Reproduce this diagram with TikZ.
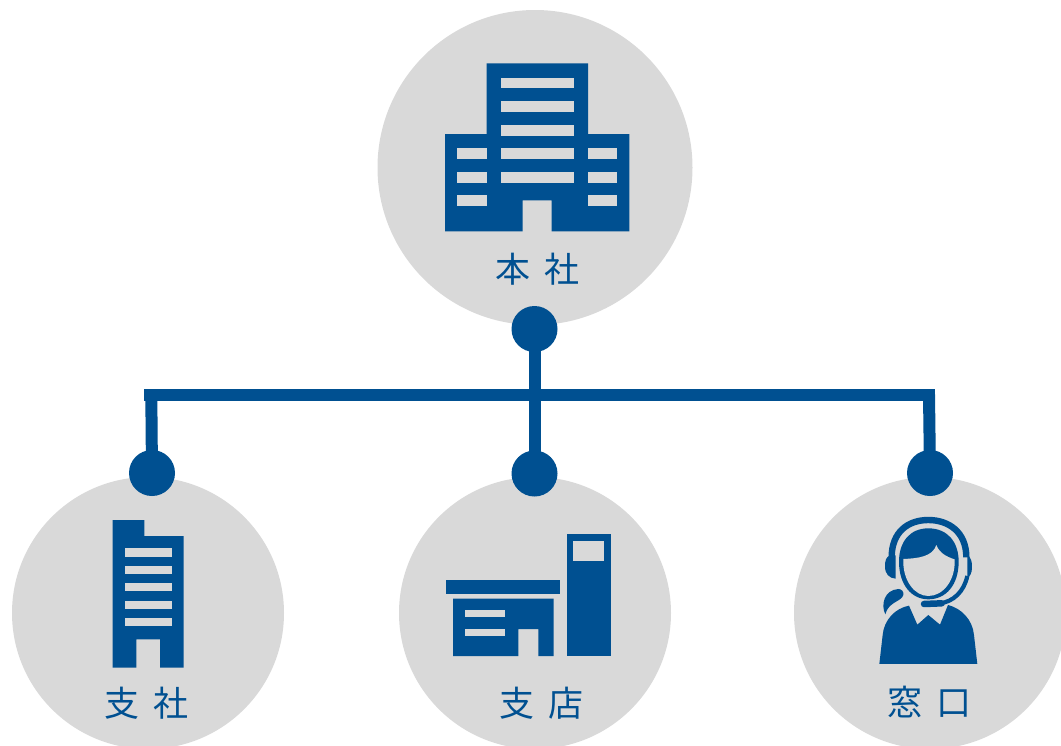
\documentclass[tikz,border=0pt]{standalone}
\usepackage{fontspec}
\setmainfont{Noto Sans CJK JP}
\definecolor{navy}{HTML}{005091}
\definecolor{disc}{HTML}{D9D9D9}
\tikzset{
  bg/.style={circle,fill=disc,inner sep=0pt,outer sep=0pt,minimum size=#1},
  dot/.style={circle,fill=navy,inner sep=0pt,outer sep=0pt,minimum size=46pt},
  label/.style={text=navy,font=\fontsize{35}{35}\selectfont,inner sep=0pt},
  link/.style={draw=navy,line width=12pt},
  ink/.style={fill=navy,draw=none},
  hole/.style={fill=disc,draw=none}
}
\newcommand{\bx}[5]{\fill[#1] (#2,#3) rectangle (#4,#5);}
\begin{document}
\begin{tikzpicture}[x=1pt,y=-1pt]
\useasboundingbox (0,0) rectangle (1061,745);
\begin{scope}
\clip (0,0) rectangle (1061,745);
\node[bg=315pt] (main) at (535,167.5) {};
\node[bg=272pt] (branch) at (148,613) {};
\node[bg=272pt] (store) at (535,613) {};
\node[bg=272pt] (desk) at (930,613) {};
\end{scope}
% connectors
\node[dot] (dm) at (534.5,329) {};
\node[dot] (db) at (152,473) {};
\node[dot] (ds) at (534.5,473.5) {};
\node[dot] (dd) at (930,473) {};
\coordinate (bl) at (144,394.5);
\coordinate (br) at (935,394.5);
\coordinate (bc) at (534.5,394.5);
\coordinate (blv) at (151.3,394.5);
\coordinate (brv) at (929,394.5);
\draw[link] (bl) -- (br);
\draw[link] (dm.center) -- (bc);
\draw[link] (bc) -- (ds.center);
\draw[link] (blv) -- (db.center);
\draw[link] (brv) -- (dd.center);
% head office
\fill[ink] (486.7,63.3) -- (588,63.3) -- (588,134) -- (629.3,134) -- (629.3,231.3) -- (551.7,231.3) -- (551.7,200.3) -- (522.7,200.3) -- (522.7,231.3) -- (445,231.3) -- (445,134) -- (486.7,134) -- cycle;
\bx{hole}{500.7}{77.7}{573.7}{88.3}
\bx{hole}{500.7}{101}{573.7}{112}
\bx{hole}{500.7}{124.7}{573.7}{135.7}
\bx{hole}{500.7}{148.3}{573.7}{159}
\bx{hole}{500.7}{172}{573.7}{182.7}
\bx{hole}{457.3}{148.3}{486.7}{159}
\bx{hole}{457.3}{172}{486.7}{182.7}
\bx{hole}{457.3}{195.3}{486.7}{206}
\bx{hole}{588}{148.3}{617.3}{159}
\bx{hole}{588}{172}{617.3}{182.7}
\bx{hole}{588}{195.3}{617.3}{206}
\node[label] (tmain) at (537,269) {本\hspace{14pt}社};
% branch
\fill[ink] (112.7,520) -- (144.3,520) -- (144.3,536) -- (183.7,536) -- (183.7,667.7) -- (160,667.7) -- (160,639.3) -- (136.3,639.3) -- (136.3,667.7) -- (112.7,667.7) -- cycle;
\bx{hole}{124.7}{548.3}{172}{556.7}
\bx{hole}{124.7}{566}{172}{574}
\bx{hole}{124.7}{583.3}{172}{591.3}
\bx{hole}{124.7}{600.7}{172}{609}
\bx{hole}{124.7}{618.3}{172}{626.3}
\node[label] (tbranch) at (146,703) {支\hspace{14pt}社};
% store
\bx{ink}{446}{580}{560}{594}
\fill[ink] (453,598.7) -- (553.7,598.7) -- (553.7,656) -- (538.3,656) -- (538.3,629) -- (518.3,629) -- (518.3,656) -- (453,656) -- cycle;
\bx{hole}{464.7}{610.3}{505}{617.3}
\bx{hole}{464.7}{629}{505}{636}
\bx{ink}{566.7}{534.3}{610.7}{656}
\bx{hole}{573.3}{541.3}{604}{561.3}
\node[label] (tstore) at (541,703) {支\hspace{14pt}店};
% operator
\begin{scope}[shift={(860,500)},x=0.3333pt,y=-0.3333pt]
 % headband
 \draw[navy,line width=6.4pt] (95,172) .. controls (95,95) and (145,60) .. (205,60) .. controls (265,60) and (319,95) .. (319,172);
 % ear cups
 \fill[ink] (90,166) .. controls (78,172) and (75,180) .. (75,200) .. controls (75,222) and (88,235) .. (107,236) -- (107,166) -- cycle;
 \fill[ink] (322,166) .. controls (333,172) and (337,185) .. (336,205) .. controls (335,220) and (330,230) .. (322,233) -- cycle;
 % hair and face outline
 \fill[ink] (205,85) .. controls (150,85) and (117,125) .. (117,185) .. controls (117,255) and (155,298) .. (205,298) .. controls (258,298) and (296,255) .. (296,185) .. controls (296,125) and (262,85) .. (205,85) -- cycle;
 % face
 \fill[hole] (130,177) .. controls (175,175) and (218,170) .. (229,135) .. controls (238,158) and (258,170) .. (284,178) .. controls (287,240) and (250,288) .. (205,288) .. controls (163,288) and (127,240) .. (130,177) -- cycle;
 % mic boom
 \draw[navy,line width=4.2pt] (322,228) .. controls (312,275) and (280,305) .. (240,310);
 \draw[navy,line width=6.5pt,line cap=round] (192,312) -- (245,310);
 % ponytail
 \fill[ink] (76,343) .. controls (62,315) and (72,270) .. (115,267) .. controls (125,267) and (132,275) .. (130,285) .. controls (125,305) and (85,305) .. (76,343) -- cycle;
 % body
 \fill[ink] (147,317) -- (172,374) -- (205,345) -- (240,374) -- (264,315) .. controls (305,325) and (338,360) .. (342,405) -- (352,492) -- (58,492) -- (68,405) .. controls (72,360) and (105,325) .. (147,317) -- cycle;
\end{scope}
\node[label] (tdesk) at (929,702) {窓\hspace{14pt}口};
\end{tikzpicture}
\end{document}
